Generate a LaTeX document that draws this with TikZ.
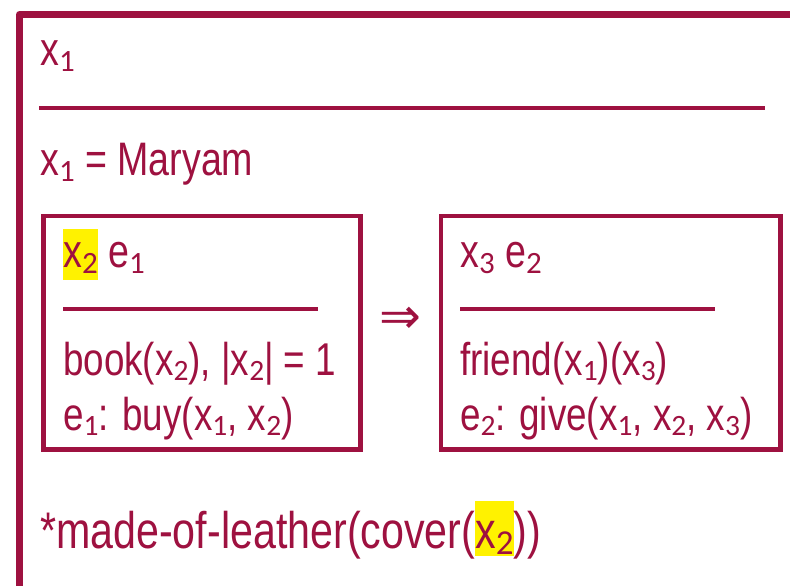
\documentclass[tikz,border=0pt]{standalone}
\usepackage{fontspec}
\setmainfont[FakeStretch=0.8]{Liberation Sans}
\newfontfamily\subfont{Carlito}
\newfontfamily\arrowfont{DejaVu Sans}
\definecolor{drsred}{RGB}{158,17,64}
\newcommand{\subH}[1]{\raisebox{-6pt}{\subfont\fontsize{31}{31}\selectfont #1}}
\newcommand{\subB}[1]{\raisebox{-5pt}{\subfont\fontsize{29.5}{29.5}\selectfont #1}}
\newcommand{\subL}[1]{\raisebox{-6pt}{\subfont\fontsize{35}{35}\selectfont #1}}
\newcommand{\hlA}[1]{{\setlength{\fboxsep}{0pt}\colorbox{yellow}{\rule{0pt}{38pt}\rule[-13pt]{0pt}{13pt}#1}}}
\newcommand{\hlB}[1]{{\setlength{\fboxsep}{0pt}\colorbox{yellow}{\rule{0pt}{47pt}\rule[-8pt]{0pt}{8pt}#1}}}
\tikzset{
  heading/.style={anchor=base west, inner sep=0pt, text=drsred, font=\fontsize{47}{56}\selectfont},
  body/.style={anchor=base west, inner sep=0pt, text=drsred, font=\fontsize{46}{52}\selectfont},
  large/.style={anchor=base west, inner sep=0pt, text=drsred, font=\fontsize{51.5}{58}\selectfont},
  drsbox/.style={draw=drsred, line width=4.5pt, anchor=north west, inner sep=0pt, outer sep=0pt, minimum width=317pt, minimum height=233.5pt},
  divider/.style={draw=drsred, line width=3.5pt},
}
\begin{document}
\begin{tikzpicture}[x=1pt,y=-1pt]
\useasboundingbox (0,0) rectangle (790,586);
\clip (0,0) rectangle (790,586);
% outer DRS box (clipped)
\draw[draw=drsred, line width=7pt, line join=round] (19.5,620) -- (19.5,14.5) -- (820,14.5);
\node[heading] (u1) at (40,66) {x\subH{1}};
\coordinate (d0a) at (39,108);
\coordinate (d0b) at (765,108);
\draw[divider, line width=4pt] (d0a) -- (d0b);
\node[heading] (c1) at (40,175) {x\subH{1} = Maryam};
% left sub-DRS
\node[drsbox] (b1) at (43.5,216) {};
\node[heading] (u2) at (63,267) {\hlA{x\subH{2}} e\subH{1}};
\coordinate (d1a) at (63,309);
\coordinate (d1b) at (318,309);
\draw[divider] (d1a) -- (d1b);
\node[body] (c2) at (63,375) {book(x\subB{2}), |x\subB{2}| = 1};
\node[body] (c3) at (63,430) {e\subB{1}: buy(x\subB{1}, x\subB{2})};
% implication
\node[inner sep=0pt, text=drsred, font=\arrowfont\fontsize{50}{50}\selectfont] (imp) at (400,320) {⇒};
% right sub-DRS
\node[drsbox, minimum width=339.5pt] (b2) at (441,216) {};
\node[heading] (u3) at (460,267) {x\subH{3} e\subH{2}};
\coordinate (d2a) at (460,309);
\coordinate (d2b) at (715,309);
\draw[divider] (d2a) -- (d2b);
\node[body] (c4) at (460,375) {friend(x\subB{1})(x\subB{3})};
\node[body] (c5) at (460,430) {e\subB{2}: give(x\subB{1}, x\subB{2}, x\subB{3})};
% bottom condition
\node[large] (c6) at (40,548) {*made-of-leather(cover(\hlB{x\subL{2}}))};
\end{tikzpicture}
\end{document}
